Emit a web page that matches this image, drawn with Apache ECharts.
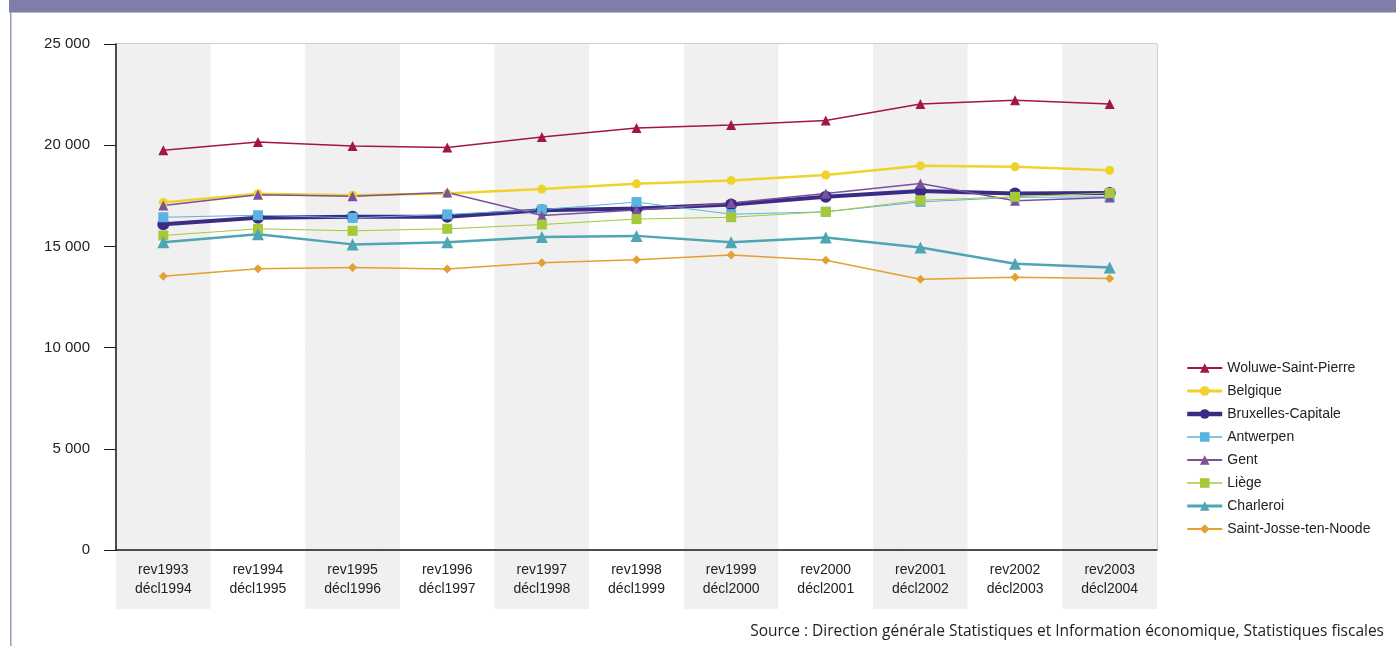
<!DOCTYPE html>
<html>
<head>
<meta charset="utf-8">
<script src="https://cdn.jsdelivr.net/npm/echarts@6/dist/echarts.min.js"></script>
<style>
html,body{margin:0;padding:0;background:#fff;}
#chart{width:1396px;height:646px;}
</style>
</head>
<body>
<div id="chart"></div>
<script>
const categories = ['rev1993\ndécl1994','rev1994\ndécl1995','rev1995\ndécl1996','rev1996\ndécl1997','rev1997\ndécl1998','rev1998\ndécl1999','rev1999\ndécl2000','rev2000\ndécl2001','rev2001\ndécl2002','rev2002\ndécl2003','rev2003\ndécl2004'];
const woluwe     = [19750, 20160, 19960, 19890, 20400, 20850, 21000, 21220, 22040, 22220, 22040];
const belgique   = [17170, 17600, 17530, 17610, 17830, 18090, 18260, 18530, 18980, 18930, 18760];
const bruxelles  = [16100, 16410, 16460, 16460, 16790, 16870, 17070, 17450, 17740, 17610, 17640];
const antwerpen  = [16440, 16540, 16410, 16580, 16820, 17190, 16590, 16710, 17200, 17420, 17450];
const gent       = [17020, 17550, 17480, 17660, 16530, 16800, 17140, 17610, 18110, 17250, 17420];
const liege      = [15540, 15870, 15770, 15870, 16080, 16350, 16440, 16710, 17280, 17450, 17640];
const charleroi  = [15210, 15600, 15100, 15210, 15470, 15520, 15210, 15440, 14950, 14140, 13960];
const stjosse    = [13520, 13890, 13960, 13880, 14190, 14340, 14580, 14320, 13380, 13470, 13420];
const yTicks = [0, 5000, 10000, 15000, 20000, 25000];
const sourceText = 'Source : Direction générale Statistiques et Information économique, Statistiques fiscales';

const FONT = "'Liberation Sans', Arial, sans-serif";
function fmt(v){ return String(v).replace(/\B(?=(\d{3})+(?!\d))/g, ' '); }

const styles = {
  'Woluwe-Saint-Pierre':   {color: '#a3173f', width: 1.5, symbol: 'triangle', size: 10},
  'Belgique':              {color: '#efd22c', width: 2.5, symbol: 'circle', size: 9},
  'Bruxelles-Capitale':    {color: '#3a2b84', width: 4, symbol: 'circle', size: 12},
  'Antwerpen':             {color: '#5cb3e0', width: 1, symbol: 'rect', size: 10},
  'Gent':                  {color: '#7a529c', width: 1.5, symbol: 'triangle', size: 10},
  'Liège':                 {color: '#a7c83a', width: 1, symbol: 'rect', size: 10},
  'Charleroi':             {color: '#4ea5b3', width: 2.5, symbol: 'triangle', size: 12},
  'Saint-Josse-ten-Noode': {color: '#e2a132', width: 1.5, symbol: 'diamond', size: 9}
};
const seriesData = {
  'Woluwe-Saint-Pierre': woluwe, 'Belgique': belgique, 'Bruxelles-Capitale': bruxelles,
  'Antwerpen': antwerpen, 'Gent': gent, 'Liège': liege, 'Charleroi': charleroi,
  'Saint-Josse-ten-Noode': stjosse
};
const names = Object.keys(styles);

const series = names.map(function(n){
  const s = styles[n];
  return {
    name: n, type: 'line', data: seriesData[n],
    xAxisIndex: 0, yAxisIndex: 0,
    symbol: s.symbol, symbolSize: s.size,
    lineStyle: {color: s.color, width: s.width},
    itemStyle: {color: s.color},
    emphasis: {disabled: true},
    animation: false
  };
});
const legendData = names.map(function(n){
  const s = styles[n];
  return {name: n, lineStyle: {width: s.width + 0.5, color: s.color}, itemStyle: {color: s.color}};
});

const chart = echarts.init(document.getElementById('chart'), null, {renderer: 'canvas'});
chart.setOption({
  animation: false,
  backgroundColor: '#ffffff',
  grid: [
    {left: 116, right: 239, top: 44, bottom: 96, show: true, borderColor: '#a0a0a0', borderWidth: 1, backgroundColor: 'transparent'},
    {left: 116, right: 239, top: 550, height: 59, show: false}
  ],
  xAxis: [
    {
      type: 'category', gridIndex: 0, data: categories, boundaryGap: true,
      axisLine: {show: true, lineStyle: {color: '#1a1a1a', width: 1.5}},
      axisTick: {show: false},
      axisLabel: {show: true, margin: 11, color: '#222', fontFamily: FONT, fontSize: 14, lineHeight: 19, interval: 0},
      splitLine: {show: false},
      splitArea: {show: true, areaStyle: {color: ['#f0f0f0', '#ffffff']}}
    },
    {
      type: 'category', gridIndex: 1, data: categories, boundaryGap: true, z: -1,
      axisLine: {show: false}, axisTick: {show: false}, axisLabel: {show: false},
      splitLine: {show: false},
      splitArea: {show: true, areaStyle: {color: ['#f0f0f0', '#ffffff']}}
    }
  ],
  yAxis: [
    {
      type: 'value', gridIndex: 0, min: yTicks[0], max: yTicks[yTicks.length-1], interval: 5000,
      axisLine: {show: true, lineStyle: {color: '#1a1a1a', width: 1.5}},
      axisTick: {show: true, inside: false, length: 12, lineStyle: {color: '#1a1a1a', width: 1}},
      axisLabel: {margin: 26, color: '#222', fontFamily: FONT, fontSize: 15, formatter: fmt},
      splitLine: {show: true, lineStyle: {color: '#d8d8d8', width: 1}}
    },
    {type: 'value', gridIndex: 1, show: false, min: 0, max: 1}
  ],
  legend: {
    orient: 'vertical', left: 1180, top: 356,
    itemWidth: 35, itemHeight: 12, itemGap: 9,
    textStyle: {color: '#222', fontFamily: FONT, fontSize: 14},
    selectedMode: false,
    data: legendData
  },
  series: series,
  graphic: [
    {type: 'rect', left: 9, top: 0, shape: {width: 1387, height: 12}, style: {fill: '#7f7ea8'}, silent: true},
    {type: 'rect', left: 9, top: 12, shape: {width: 1387, height: 1}, style: {fill: '#b8b8d4'}, silent: true},
    {type: 'rect', left: 10, top: 12, shape: {width: 1.5, height: 634}, style: {fill: '#9a9ac4'}, silent: true},
    {type: 'text', right: 12, top: 624, style: {text: sourceText, fill: '#222', font: "15.5px 'Open Sans', Lato, sans-serif"}, silent: true}
  ]
});
</script>
</body>
</html>
